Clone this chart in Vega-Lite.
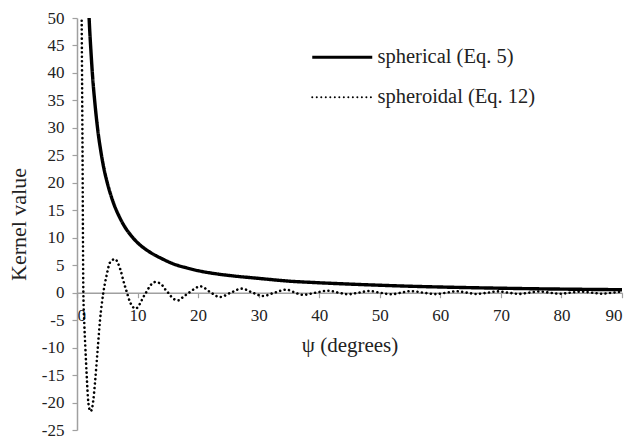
{
  "$schema": "https://vega.github.io/schema/vega-lite/v6.json",
  "width": 545,
  "height": 412,
  "autosize": {"type": "none"},
  "padding": {"left": 77, "top": 18, "right": 19, "bottom": 8},
  "background": "white",
  "config": {
    "view": {"stroke": null},
    "font": "Liberation Serif"
  },
  "data": {
    "values": [
      {"psi": 1.8, "v": 55.5, "s": "spherical (Eq. 5)"},
      {"psi": 2.0, "v": 50, "s": "spherical (Eq. 5)"},
      {"psi": 2.3, "v": 44, "s": "spherical (Eq. 5)"},
      {"psi": 2.6, "v": 39, "s": "spherical (Eq. 5)"},
      {"psi": 3.0, "v": 34, "s": "spherical (Eq. 5)"},
      {"psi": 3.5, "v": 29, "s": "spherical (Eq. 5)"},
      {"psi": 4.0, "v": 25.3, "s": "spherical (Eq. 5)"},
      {"psi": 4.5, "v": 22.3, "s": "spherical (Eq. 5)"},
      {"psi": 5.0, "v": 20, "s": "spherical (Eq. 5)"},
      {"psi": 6.0, "v": 16.4, "s": "spherical (Eq. 5)"},
      {"psi": 7.0, "v": 13.8, "s": "spherical (Eq. 5)"},
      {"psi": 8.0, "v": 11.8, "s": "spherical (Eq. 5)"},
      {"psi": 9.0, "v": 10.3, "s": "spherical (Eq. 5)"},
      {"psi": 10, "v": 9.1, "s": "spherical (Eq. 5)"},
      {"psi": 12, "v": 7.4, "s": "spherical (Eq. 5)"},
      {"psi": 14, "v": 6.2, "s": "spherical (Eq. 5)"},
      {"psi": 16, "v": 5.2, "s": "spherical (Eq. 5)"},
      {"psi": 18, "v": 4.55, "s": "spherical (Eq. 5)"},
      {"psi": 20, "v": 4.0, "s": "spherical (Eq. 5)"},
      {"psi": 22, "v": 3.6, "s": "spherical (Eq. 5)"},
      {"psi": 25, "v": 3.15, "s": "spherical (Eq. 5)"},
      {"psi": 30, "v": 2.6, "s": "spherical (Eq. 5)"},
      {"psi": 35, "v": 2.1, "s": "spherical (Eq. 5)"},
      {"psi": 40, "v": 1.8, "s": "spherical (Eq. 5)"},
      {"psi": 45, "v": 1.56, "s": "spherical (Eq. 5)"},
      {"psi": 50, "v": 1.35, "s": "spherical (Eq. 5)"},
      {"psi": 55, "v": 1.17, "s": "spherical (Eq. 5)"},
      {"psi": 60, "v": 1.03, "s": "spherical (Eq. 5)"},
      {"psi": 65, "v": 0.91, "s": "spherical (Eq. 5)"},
      {"psi": 70, "v": 0.81, "s": "spherical (Eq. 5)"},
      {"psi": 75, "v": 0.72, "s": "spherical (Eq. 5)"},
      {"psi": 80, "v": 0.65, "s": "spherical (Eq. 5)"},
      {"psi": 85, "v": 0.59, "s": "spherical (Eq. 5)"},
      {"psi": 90, "v": 0.54, "s": "spherical (Eq. 5)"},

      {"psi": 0.6, "v": 70, "s": "spheroidal (Eq. 12)"},
      {"psi": 0.77, "v": 50, "s": "spheroidal (Eq. 12)"},
      {"psi": 0.9, "v": 28, "s": "spheroidal (Eq. 12)"},
      {"psi": 1.05, "v": 0, "s": "spheroidal (Eq. 12)"},
      {"psi": 1.2, "v": -5.5, "s": "spheroidal (Eq. 12)"},
      {"psi": 1.38, "v": -10, "s": "spheroidal (Eq. 12)"},
      {"psi": 1.6, "v": -15, "s": "spheroidal (Eq. 12)"},
      {"psi": 1.8, "v": -19, "s": "spheroidal (Eq. 12)"},
      {"psi": 2.0, "v": -21, "s": "spheroidal (Eq. 12)"},
      {"psi": 2.25, "v": -21.6, "s": "spheroidal (Eq. 12)"},
      {"psi": 2.5, "v": -21, "s": "spheroidal (Eq. 12)"},
      {"psi": 2.7, "v": -19.5, "s": "spheroidal (Eq. 12)"},
      {"psi": 3.0, "v": -16, "s": "spheroidal (Eq. 12)"},
      {"psi": 3.4, "v": -10.5, "s": "spheroidal (Eq. 12)"},
      {"psi": 3.8, "v": -5, "s": "spheroidal (Eq. 12)"},
      {"psi": 4.35, "v": 0, "s": "spheroidal (Eq. 12)"},
      {"psi": 4.9, "v": 3.2, "s": "spheroidal (Eq. 12)"},
      {"psi": 5.45, "v": 5.5, "s": "spheroidal (Eq. 12)"},
      {"psi": 6.27, "v": 6.1, "s": "spheroidal (Eq. 12)"},
      {"psi": 7.1, "v": 4.4, "s": "spheroidal (Eq. 12)"},
      {"psi": 7.8, "v": 1.6, "s": "spheroidal (Eq. 12)"},
      {"psi": 8.2, "v": 0.2, "s": "spheroidal (Eq. 12)"},
      {"psi": 8.75, "v": -1.7, "s": "spheroidal (Eq. 12)"},
      {"psi": 9.7, "v": -2.9, "s": "spheroidal (Eq. 12)"},
      {"psi": 10.4, "v": -2.0, "s": "spheroidal (Eq. 12)"},
      {"psi": 10.95, "v": -0.8, "s": "spheroidal (Eq. 12)"},
      {"psi": 11.5, "v": 0.2, "s": "spheroidal (Eq. 12)"},
      {"psi": 12.0, "v": 1.15, "s": "spheroidal (Eq. 12)"},
      {"psi": 12.87, "v": 1.93, "s": "spheroidal (Eq. 12)"},
      {"psi": 13.86, "v": 1.6, "s": "spheroidal (Eq. 12)"},
      {"psi": 14.5, "v": 0.7, "s": "spheroidal (Eq. 12)"},
      {"psi": 15.2, "v": -0.2, "s": "spheroidal (Eq. 12)"},
      {"psi": 15.9, "v": -1.1, "s": "spheroidal (Eq. 12)"},
      {"psi": 16.8, "v": -1.4, "s": "spheroidal (Eq. 12)"},
      {"psi": 17.5, "v": -0.8, "s": "spheroidal (Eq. 12)"},
      {"psi": 18.5, "v": 0, "s": "spheroidal (Eq. 12)"},
      {"psi": 20.4, "v": 1.15, "s": "spheroidal (Eq. 12)"},
      {"psi": 22.0, "v": 0.1, "s": "spheroidal (Eq. 12)"},
      {"psi": 23.6, "v": -0.8, "s": "spheroidal (Eq. 12)"},
      {"psi": 25.4, "v": 0, "s": "spheroidal (Eq. 12)"},
      {"psi": 27.2, "v": 0.73, "s": "spheroidal (Eq. 12)"},
      {"psi": 29.0, "v": 0, "s": "spheroidal (Eq. 12)"},
      {"psi": 30.7, "v": -0.6, "s": "spheroidal (Eq. 12)"},
      {"psi": 32.6, "v": 0, "s": "spheroidal (Eq. 12)"},
      {"psi": 34.6, "v": 0.55, "s": "spheroidal (Eq. 12)"},
      {"psi": 36.0, "v": 0, "s": "spheroidal (Eq. 12)"},
      {"psi": 37.3, "v": -0.4, "s": "spheroidal (Eq. 12)"},
      {"psi": 39.4, "v": 0, "s": "spheroidal (Eq. 12)"},
      {"psi": 41.5, "v": 0.36, "s": "spheroidal (Eq. 12)"},
      {"psi": 43.2, "v": 0, "s": "spheroidal (Eq. 12)"},
      {"psi": 44.8, "v": -0.3, "s": "spheroidal (Eq. 12)"},
      {"psi": 46.5, "v": 0, "s": "spheroidal (Eq. 12)"},
      {"psi": 48.3, "v": 0.3, "s": "spheroidal (Eq. 12)"},
      {"psi": 50.0, "v": 0, "s": "spheroidal (Eq. 12)"},
      {"psi": 51.9, "v": -0.3, "s": "spheroidal (Eq. 12)"},
      {"psi": 53.5, "v": 0, "s": "spheroidal (Eq. 12)"},
      {"psi": 55.2, "v": 0.28, "s": "spheroidal (Eq. 12)"},
      {"psi": 57.2, "v": 0, "s": "spheroidal (Eq. 12)"},
      {"psi": 59.2, "v": -0.26, "s": "spheroidal (Eq. 12)"},
      {"psi": 61.0, "v": 0, "s": "spheroidal (Eq. 12)"},
      {"psi": 62.7, "v": 0.25, "s": "spheroidal (Eq. 12)"},
      {"psi": 64.4, "v": 0, "s": "spheroidal (Eq. 12)"},
      {"psi": 66.0, "v": -0.24, "s": "spheroidal (Eq. 12)"},
      {"psi": 67.8, "v": 0, "s": "spheroidal (Eq. 12)"},
      {"psi": 69.5, "v": 0.23, "s": "spheroidal (Eq. 12)"},
      {"psi": 71.2, "v": 0, "s": "spheroidal (Eq. 12)"},
      {"psi": 73.0, "v": -0.22, "s": "spheroidal (Eq. 12)"},
      {"psi": 74.7, "v": 0, "s": "spheroidal (Eq. 12)"},
      {"psi": 76.4, "v": 0.21, "s": "spheroidal (Eq. 12)"},
      {"psi": 78.0, "v": 0, "s": "spheroidal (Eq. 12)"},
      {"psi": 79.8, "v": -0.2, "s": "spheroidal (Eq. 12)"},
      {"psi": 81.5, "v": 0, "s": "spheroidal (Eq. 12)"},
      {"psi": 83.2, "v": 0.2, "s": "spheroidal (Eq. 12)"},
      {"psi": 85.0, "v": 0, "s": "spheroidal (Eq. 12)"},
      {"psi": 86.7, "v": -0.19, "s": "spheroidal (Eq. 12)"},
      {"psi": 88.4, "v": 0, "s": "spheroidal (Eq. 12)"},
      {"psi": 90.0, "v": 0.18, "s": "spheroidal (Eq. 12)"}
    ]
  },
  "encoding": {
    "x": {
      "field": "psi", "type": "quantitative",
      "scale": {"domain": [0, 90], "nice": false, "zero": false},
      "axis": {
        "title": "ψ (degrees)",
        "offset": -137.3,
        "values": [0, 10, 20, 30, 40, 50, 60, 70, 80, 90],
        "grid": false,
        "domainColor": "#a0a0a0", "domainWidth": 1.5,
        "tickColor": "#a0a0a0", "tickSize": 5, "tickWidth": 1.2,
        "labelFont": "Liberation Serif", "labelFontSize": 17, "labelColor": "#222222",
        "labelPadding": 10,
        "titleFont": "Liberation Serif", "titleFontSize": 21, "titleFontWeight": "normal", "titleColor": "#222222",
        "titlePadding": 11
      }
    },
    "y": {
      "field": "v", "type": "quantitative",
      "scale": {"domain": [-25, 50], "nice": false, "zero": false},
      "axis": {
        "title": "Kernel value",
        "values": [-25, -20, -15, -10, -5, 0, 5, 10, 15, 20, 25, 30, 35, 40, 45, 50],
        "labelExpr": "replace(datum.label, '−', '-')",
        "grid": false,
        "domainColor": "#a0a0a0", "domainWidth": 1.5,
        "tickColor": "#a0a0a0", "tickSize": 5, "tickWidth": 1.2,
        "labelFont": "Liberation Serif", "labelFontSize": 17, "labelColor": "#222222",
        "labelPadding": 8,
        "titleFont": "Liberation Serif", "titleFontSize": 22, "titleFontWeight": "normal", "titleColor": "#222222",
        "titlePadding": 11
      }
    },
    "strokeDash": {
      "field": "s", "type": "nominal",
      "scale": {"domain": ["spherical (Eq. 5)", "spheroidal (Eq. 12)"], "range": [[1, 0], [0.01, 4.5]]},
      "legend": {
        "title": null,
        "orient": "none",
        "legendX": 255,
        "legendY": 29,
        "padding": 0,
        "symbolType": "M-3,0H3",
        "symbolSize": 400,
        "symbolStrokeColor": "black",
        "symbolStrokeWidth": 3,
        "labelOffset": 25,
        "rowPadding": 19,
        "labelFont": "Liberation Serif",
        "labelFontSize": 20.5,
        "labelColor": "#222222",
        "encode": {
          "symbols": {
            "update": {
              "strokeCap": {"signal": "datum.value === 'spherical (Eq. 5)' ? 'butt' : 'round'"},
              "strokeWidth": {"signal": "datum.value === 'spherical (Eq. 5)' ? 3.2 : 2"}
            }
          }
        }
      }
    }
  },
  "layer": [
    {
      "transform": [{"filter": "datum.s === 'spherical (Eq. 5)'"}],
      "mark": {"type": "line", "color": "black", "strokeWidth": 3.4, "interpolate": "monotone", "clip": true}
    },
    {
      "transform": [{"filter": "datum.s === 'spheroidal (Eq. 12)'"}],
      "mark": {"type": "line", "color": "black", "strokeWidth": 2.6, "strokeCap": "round", "interpolate": "monotone", "clip": true}
    }
  ]
}
